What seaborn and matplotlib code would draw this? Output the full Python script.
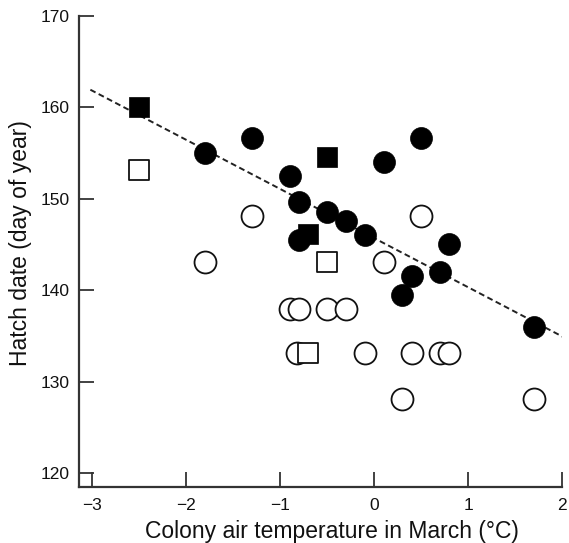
import numpy as np
import pandas as pd
import matplotlib
matplotlib.use("Agg")
import matplotlib.pyplot as plt
import seaborn as sns

# Data
fc_x = [-1.8, -1.3, 0.1, 0.5, -0.9, -0.8, -0.5, -0.3, -0.1, -0.8, 0.8, 0.4, 0.7, 0.3, 1.7]
fc_y = [155.0, 156.6, 154.0, 156.6, 152.5, 149.6, 148.6, 147.6, 146.0, 145.5, 145.1, 141.6, 142.0, 139.5, 136.0]
fs_x = [-2.5, -0.5, -0.7]
fs_y = [160.0, 154.6, 146.2]
oc_x = [-1.3, 0.5, -1.8, 0.1, -0.9, -0.8, -0.5, -0.3, -0.82, -0.1, 0.4, 0.7, 0.8, 0.3, 1.7]
oc_y = [148.1, 148.1, 143.1, 143.1, 138.0, 138.0, 138.0, 138.0, 133.2, 133.2, 133.2, 133.2, 133.2, 128.1, 128.1]
os_x = [-2.5, -0.5, -0.7]
os_y = [153.1, 143.1, 133.2]

fit_intercept = 145.7
fit_slope = -5.37
fit_range = [-3.02, 2.06]

x_ticks = [-3, -2, -1, 0, 1, 2]
y_ticks = [120, 130, 140, 150, 160, 170]

sns.set_theme(style="white")
plt.rcParams['font.family'] = ['Liberation Sans', 'DejaVu Sans']

fig = plt.figure(figsize=(5.69, 5.43), dpi=100)
ax = fig.add_axes([0.139, 0.103, 0.849, 0.868])

line_x = np.array(fit_range)
line_y = fit_intercept + fit_slope * line_x
sns.lineplot(x=line_x, y=line_y, ax=ax, color="#222222", lw=1.4,
             linestyle=(0, (3, 1.8)), zorder=1)

ms = 250
sns.scatterplot(x=oc_x, y=oc_y, ax=ax, marker="o", s=ms, facecolor="white",
                edgecolor="#111111", linewidth=1.3, zorder=2)
sns.scatterplot(x=os_x, y=os_y, ax=ax, marker="s", s=ms * 0.85, facecolor="white",
                edgecolor="#111111", linewidth=1.3, zorder=2)
sns.scatterplot(x=fc_x, y=fc_y, ax=ax, marker="o", s=ms, color="black",
                edgecolor="black", linewidth=0.5, zorder=3)
sns.scatterplot(x=fs_x, y=fs_y, ax=ax, marker="s", s=ms * 0.85, color="black",
                edgecolor="black", linewidth=0.5, zorder=3)

ax.set_xlim(-3.14, 2.0)
ax.set_ylim(118.5, 170.0)
ax.set_xticks(x_ticks)
ax.set_yticks(y_ticks)
ax.set_xticklabels(["\u22123", "\u22122", "\u22121", "0", "1", "2"])
ax.tick_params(bottom=True, left=True, direction="in", length=11, width=1.3,
               colors="#333333", labelcolor="#111111", labelsize=12.5, pad=7)
ax.tick_params(axis="x", pad=8)
for side in ["top", "right"]:
    ax.spines[side].set_visible(False)
for side in ["left", "bottom"]:
    ax.spines[side].set_color("#333333")
    ax.spines[side].set_linewidth(1.6)

ax.set_xlabel("Colony air temperature in March (\u00b0C)", fontsize=16.5, color="#111111")
ax.set_ylabel("Hatch date (day of year)", fontsize=16.5, color="#111111")
ax.xaxis.set_label_coords(0.524, -0.07)
ax.yaxis.set_label_coords(-0.097, 0.517)

fig.savefig("out.png", dpi=100)
